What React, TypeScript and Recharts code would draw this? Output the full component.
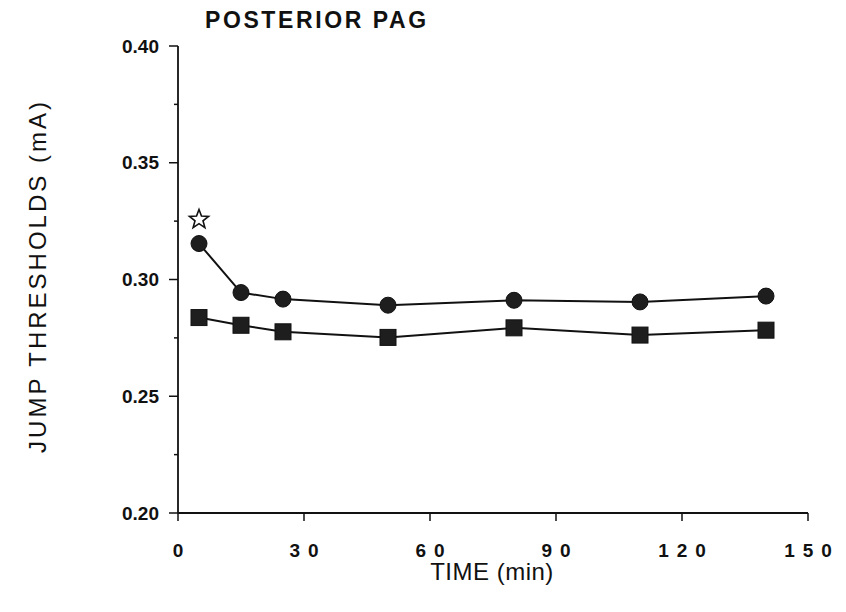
import React from 'react';
import { ComposedChart, Line, Scatter, XAxis, YAxis } from 'recharts';

// time points (min)
const times = [5, 15, 25, 50, 80, 110, 140];
// circles (upper series) and squares (lower series), mA
const circleValues = [0.3154, 0.2944, 0.2916, 0.289, 0.2911, 0.2904, 0.2929];
const squareValues = [0.2837, 0.2804, 0.2776, 0.2752, 0.2793, 0.2762, 0.2783];
// significance star above the first circle
const starPoint = [{ t: 5, v: 0.3257 }];

const xTicks = [0, 30, 60, 90, 120, 150];
const yTicks = [0.2, 0.225, 0.25, 0.275, 0.3, 0.325, 0.35, 0.375, 0.4];
const yLabels = ['0.20', '0.25', '0.30', '0.35', '0.40'];

const circleData = times.map((t, i) => ({ t, v: circleValues[i] }));
const squareData = times.map((t, i) => ({ t, v: squareValues[i] }));

const INK = '#111';
const FONT = '"Liberation Sans", Arial, sans-serif';

const YTick = (props: any) => {
  const { x, y, payload } = props;
  const label = payload.value.toFixed(2);
  const major = yLabels.includes(label);
  return (
    <g>
      <line x1={x - (major ? 9 : 4)} x2={x} y1={y} y2={y} stroke={INK} strokeWidth={1.5} />
      {major && (
        <text x={x - 19} y={y} textAnchor="end" dominantBaseline="central" fontSize={19} fontWeight="bold" fill={INK} fontFamily={FONT}>
          {label}
        </text>
      )}
    </g>
  );
};

const XTick = (props: any) => {
  const { x, y, payload } = props;
  return (
    <g>
      <line x1={x} x2={x} y1={y} y2={y + 8} stroke={INK} strokeWidth={1.5} />
      <text x={x + 4} y={y + 44} textAnchor="middle" fontSize={19} fontWeight="bold" letterSpacing={8} fill={INK} fontFamily={FONT}>
        {payload.value}
      </text>
    </g>
  );
};

const CircleDot = (props: any) => {
  const { cx, cy } = props;
  if (cx == null || cy == null) return null;
  return <circle cx={cx} cy={cy} r={8} fill="#1e1e1e" stroke={INK} strokeWidth={1} />;
};

const SquareDot = (props: any) => {
  const { cx, cy } = props;
  if (cx == null || cy == null) return null;
  return <rect x={cx - 8} y={cy - 8} width={16} height={16} fill="#1e1e1e" stroke={INK} strokeWidth={1} />;
};

const StarShape = (props: any) => {
  const { cx, cy } = props;
  const pts: string[] = [];
  for (let i = 0; i < 10; i++) {
    const r = i % 2 === 0 ? 10 : 4.2;
    const a = -Math.PI / 2 + (i * Math.PI) / 5;
    pts.push(`${cx + r * Math.cos(a)},${cy + r * Math.sin(a)}`);
  }
  return <polygon points={pts.join(' ')} fill="#fff" stroke={INK} strokeWidth={1.6} />;
};

export default function App() {
  return (
    <div style={{ position: 'absolute', left: 0, top: 0, width: 846, height: 612, background: '#fff', fontFamily: FONT }}>
      <ComposedChart width={846} height={612} margin={{ top: 46, right: 38, bottom: 59, left: 118 }}>
        <XAxis
          dataKey="t"
          type="number"
          domain={[0, 150]}
          ticks={xTicks}
          interval={0}
          height={40}
          tickSize={0}
          tickMargin={0}
          tick={<XTick />}
          axisLine={{ stroke: INK, strokeWidth: 1.8 }}
        />
        <YAxis
          type="number"
          domain={[0.2, 0.4]}
          ticks={yTicks}
          interval={0}
          width={60}
          tickSize={0}
          tickMargin={0}
          tick={<YTick />}
          axisLine={{ stroke: INK, strokeWidth: 1.8 }}
        />
        <Line data={circleData} dataKey="v" stroke={INK} strokeWidth={2} dot={<CircleDot />} isAnimationActive={false} />
        <Line data={squareData} dataKey="v" stroke={INK} strokeWidth={2} dot={<SquareDot />} isAnimationActive={false} />
        <Scatter data={starPoint} dataKey="v" shape={<StarShape />} isAnimationActive={false} />
      </ComposedChart>
      <div style={{ position: 'absolute', left: 205, top: 7, fontSize: 23, fontWeight: 'bold', letterSpacing: 2.6, color: INK, whiteSpace: 'nowrap' }}>
        POSTERIOR PAG
      </div>
      <div
        style={{
          position: 'absolute',
          left: 38,
          top: 276,
          transform: 'translate(-50%, -50%) rotate(-90deg)',
          fontSize: 24,
          letterSpacing: 3,
          color: INK,
          whiteSpace: 'nowrap',
        }}
      >
        JUMP THRESHOLDS (mA)
      </div>
      <div style={{ position: 'absolute', left: 492, top: 572, transform: 'translate(-50%, -50%)', fontSize: 24, letterSpacing: 0.5, color: INK, whiteSpace: 'nowrap' }}>
        TIME (min)
      </div>
    </div>
  );
}
